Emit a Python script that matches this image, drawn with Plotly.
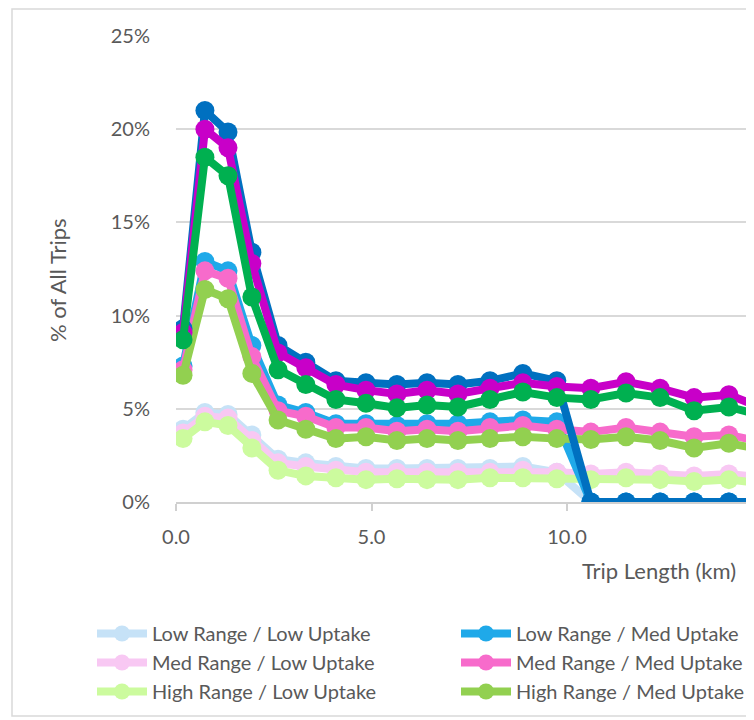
import plotly.graph_objects as go

# Trip length bin positions (km)
trip_km = [0.18, 0.74, 1.33, 1.94, 2.61, 3.32, 4.09, 4.86, 5.65, 6.42,
           7.21, 8.03, 8.87, 9.74, 10.61, 11.51, 12.38, 13.25, 14.14, 15.04]

# % of all trips per series
low_range_low_uptake = [3.9, 4.8, 4.7, 3.6, 2.3, 2.1, 1.9, 1.8, 1.8, 1.8,
                        1.8, 1.8, 1.9, 1.6, 0, 0, 0, 0, 0, 0]
med_range_low_uptake = [3.7, 4.6, 4.5, 3.3, 2.1, 1.9, 1.7, 1.6, 1.6, 1.6,
                        1.6, 1.6, 1.7, 1.6, 1.5, 1.6, 1.5, 1.4, 1.5, 1.3]
high_range_low_uptake = [3.4, 4.3, 4.1, 2.9, 1.7, 1.4, 1.3, 1.2, 1.25, 1.2,
                         1.2, 1.3, 1.3, 1.25, 1.2, 1.3, 1.2, 1.1, 1.2, 1.0]
low_range_med_uptake = [7.3, 12.9, 12.4, 8.4, 5.2, 4.8, 4.2, 4.2, 4.1, 4.2,
                        4.2, 4.3, 4.4, 4.3, 0, 0, 0, 0, 0, 0]
med_range_med_uptake = [7.1, 12.4, 12.0, 7.8, 4.9, 4.6, 4.0, 4.0, 3.8, 3.9,
                        3.8, 4.0, 4.1, 3.9, 3.75, 4.0, 3.75, 3.5, 3.6, 3.2]
high_range_med_uptake = [6.8, 11.4, 10.9, 6.9, 4.4, 3.9, 3.4, 3.5, 3.3, 3.4,
                         3.3, 3.4, 3.5, 3.4, 3.35, 3.5, 3.3, 2.9, 3.15, 2.8]
low_range_high_uptake = [9.3, 21.0, 19.85, 13.4, 8.4, 7.5, 6.5, 6.4, 6.3, 6.4,
                         6.3, 6.5, 6.9, 6.5, 0, 0, 0, 0, 0, 0]
med_range_high_uptake = [9.1, 20.0, 19.0, 12.8, 8.0, 7.2, 6.3, 6.0, 5.8, 6.0,
                         5.8, 6.1, 6.4, 6.2, 6.1, 6.45, 6.1, 5.6, 5.75, 5.0]
high_range_high_uptake = [8.7, 18.5, 17.5, 11.0, 7.1, 6.3, 5.5, 5.3, 5.05, 5.2,
                          5.1, 5.5, 5.9, 5.6, 5.5, 5.85, 5.6, 4.9, 5.1, 4.6]

series = [
    ("Low Range / Low Uptake", low_range_low_uptake, "#C6E2F7", 1, True),
    ("Med Range / Low Uptake", med_range_low_uptake, "#F8C8F3", 3, True),
    ("High Range / Low Uptake", high_range_low_uptake, "#CCFB9E", 5, True),
    ("Low Range / Med Uptake", low_range_med_uptake, "#1FA9E9", 2, True),
    ("Med Range / Med Uptake", med_range_med_uptake, "#F76BCB", 4, True),
    ("High Range / Med Uptake", high_range_med_uptake, "#92D050", 6, True),
    ("Low Range / High Uptake", low_range_high_uptake, "#0070C0", 7, False),
    ("Med Range / High Uptake", med_range_high_uptake, "#C800C8", 8, False),
    ("High Range / High Uptake", high_range_high_uptake, "#00B050", 9, False),
]

FONT = "Lato"
GREY = "#595959"

# page has an 8px body margin: figure is drawn 8px right/down
W, H = 746, 712
L, T = 168, 28
PW, PH = 578, 466

fig = go.Figure()
for name, vals, color, rank, show in series:
    fig.add_trace(go.Scatter(
        x=trip_km, y=vals, name=name, mode="lines+markers",
        line=dict(color=color, width=8),
        marker=dict(color=color, size=19),
        legendrank=rank, showlegend=show,
    ))

fig.update_layout(
    width=W, height=H,
    margin=dict(l=L, r=W - L - PW, t=T, b=H - T - PH, autoexpand=False),
    paper_bgcolor="white", plot_bgcolor="white",
    font=dict(family=FONT, color=GREY, size=20),
    xaxis=dict(range=[0, PW / 39.1], tickmode="linear", tick0=0, dtick=5,
               tickformat=".1f", showgrid=False, zeroline=False,
               showline=True, linecolor="#D0D0D0", linewidth=1.5,
               ticks="outside", ticklen=7, tickcolor="#D0D0D0", tickwidth=1.5,
               ticklabelstandoff=9,
               tickfont=dict(size=20, color=GREY)),
    yaxis=dict(range=[0, 25], tickmode="linear", tick0=0, dtick=5,
               ticksuffix="%", showgrid=True, gridcolor="#D9D9D9", gridwidth=1.5,
               zeroline=False, showline=False, ticks="", ticklabelstandoff=25,
               tickfont=dict(size=20, color=GREY)),
    legend=dict(orientation="h", x=-84 / PW, xanchor="left",
                y=(PH + T - 606) / PH, yanchor="top",
                itemwidth=50, entrywidth=299, entrywidthmode="pixels",
                font=dict(size=20, color=GREY), bgcolor="rgba(0,0,0,0)",
                traceorder="normal", itemclick=False),
    annotations=[
        dict(text="Trip Length (km)", xref="paper", yref="paper",
             x=(738 - 176) / PW, y=(502 - 570) / PH, xanchor="right",
             yanchor="middle", showarrow=False, font=dict(size=22, color=GREY)),
        dict(text="% of All Trips", xref="paper", yref="paper",
             x=(57 - 176) / PW, y=(502 - 280) / PH, xanchor="center", yanchor="middle",
             textangle=-90, showarrow=False, font=dict(size=22, color=GREY)),
    ],
    shapes=[
        dict(type="rect", xref="paper", yref="paper",
             x0=(12 - 176) / PW, x1=1.1, y0=(502 - 716) / PH, y1=(PH + T - 1) / PH,
             line=dict(color="#D9D9D9", width=1.5), fillcolor="rgba(0,0,0,0)",
             layer="below"),
    ],
)

fig.write_html("out.html")
